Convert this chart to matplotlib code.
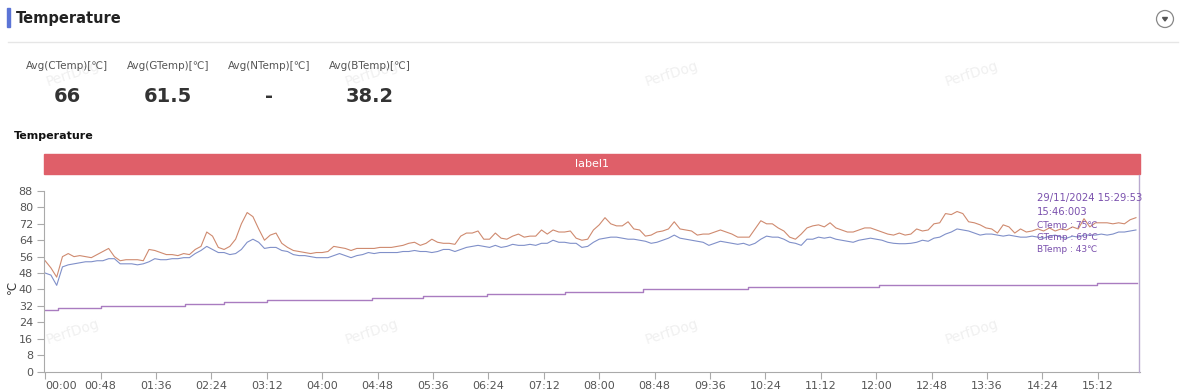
import numpy as np
import matplotlib
matplotlib.use('Agg')
import matplotlib.pyplot as plt
from matplotlib.patches import Rectangle, Circle, Polygon

# Summary values
avg_labels = ['Avg(CTemp)[℃]', 'Avg(GTemp)[℃]', 'Avg(NTemp)[℃]', 'Avg(BTemp)[℃]']
avg_values = ['66', '61.5', '-', '38.2']

# Sampled every 5 seconds, starting at 00:00
STEP = 5
ctemp = [54, 50.5, 46, 56, 57.5, 56, 56.5, 56, 55.5, 57, 58.5, 60, 56, 54, 54.5, 54.5,
         54.5, 54, 59.5, 59, 58, 57, 57, 56.5, 57.5, 57, 59.5, 61, 68, 66, 60.5, 59.5,
         61, 64.5, 72, 77.5, 75.5, 69.5, 64, 66.5, 67.5, 62.5, 60.5, 59, 58.5, 58, 57.5, 58,
         58, 58.5, 61, 60.5, 60, 59, 60, 60, 60, 60, 60.5, 60.5, 60.5, 61, 61.5, 62.5,
         63, 61.5, 62.5, 64.5, 63, 62.5, 62.5, 62, 66, 67.5, 67.5, 68.5, 64.5, 64.5, 67.5, 65,
         64.5, 66, 67, 65.5, 66, 66, 69, 67, 69, 68, 68, 68.5, 65, 64, 64.5, 69,
         71.5, 75, 72, 71, 71, 73, 69.5, 69, 66, 66.5, 68, 68.5, 69.5, 73, 69.5, 69,
         68.5, 66.5, 67, 67, 68, 69, 68, 67, 65.5, 65.5, 65.5, 69.5, 73.5, 72, 72, 70,
         68.5, 65.5, 64.5, 67, 70, 71, 71.5, 70.5, 72.5, 70, 69, 68, 68, 69, 70, 70,
         69, 68, 67, 66.5, 67.5, 66.5, 67, 69.5, 68.5, 69, 72, 72.5, 77, 76.5, 78, 77,
         73, 72.5, 71.5, 70, 69.5, 67.5, 71.5, 70.5, 67.5, 69.5, 68, 68.5, 69.5, 68.5, 70, 68.5,
         69.5, 69, 70.5, 69.5, 74.5, 70.5, 72.5, 72.5, 72.5, 72, 72.5, 72, 74, 75]
gtemp = [48, 47, 42, 51, 52, 52.5, 53, 53.5, 53.5, 54, 54, 55, 55, 52.5, 52.5, 52.5,
         52, 52.5, 53.5, 55, 54.5, 54.5, 55, 55, 55.5, 55.5, 57.5, 59, 61, 59.5, 58, 58,
         57, 57.5, 59.5, 63, 64.5, 63, 60, 60.5, 60.5, 59, 58.5, 57, 56.5, 56.5, 56, 55.5,
         55.5, 55.5, 56.5, 57.5, 56.5, 55.5, 56.5, 57, 58, 57.5, 58, 58, 58, 58, 58.5, 58.5,
         59, 58.5, 58.5, 58, 58.5, 59.5, 59.5, 58.5, 59.5, 60.5, 61, 61.5, 61, 60.5, 61.5, 60.5,
         61, 62, 61.5, 61.5, 62, 61.5, 62.5, 62.5, 64, 63, 63, 62.5, 62.5, 60.5, 61, 63,
         64.5, 65, 65.5, 65.5, 65, 64.5, 64.5, 64, 63.5, 62.5, 63, 64, 65, 66.5, 65, 64.5,
         64, 63.5, 63, 61.5, 62.5, 63.5, 63, 62.5, 62, 62.5, 61.5, 62.5, 64.5, 66, 65.5, 65.5,
         64.5, 63, 62.5, 61.5, 64.5, 64.5, 65.5, 65, 65.5, 64.5, 64, 63.5, 63, 64, 64.5, 65,
         64.5, 64, 63, 62.5, 62.3, 62.3, 62.5, 63, 64, 63.5, 65, 65.5, 67, 68, 69.5, 69,
         68.5, 67.5, 66.5, 67, 67, 66.5, 66, 66.5, 66, 65.5, 65.5, 66, 65.5, 65, 66, 66.5,
         65.5, 65, 66, 65.5, 66.5, 66.5, 66.5, 67, 66.5, 67, 68, 68, 68.5, 69]

# BTemp is a step series: seconds at which the value changes, and the new value
btemp_times = [0, 11, 48, 121, 155, 192, 283, 327, 383, 450, 518, 609, 722, 911]
btemp_levels = [30, 31, 32, 33, 34, 35, 36, 37, 38, 39, 40, 41, 42, 43]
END_TIME = 946

tooltip_lines = ['29/11/2024 15:29:53', '15:46:003', 'CTemp : 75℃', 'GTemp : 69℃', 'BTemp : 43℃']

W, H = 1180, 390
fig = plt.figure(figsize=(W / 100, H / 100), dpi=100)
fig.patch.set_facecolor('white')

# overlay layer in pixel coordinates
bg = fig.add_axes([0, 0, 1, 1], zorder=2)
bg.set_xlim(0, W)
bg.set_ylim(H, 0)
bg.axis('off')
bg.patch.set_alpha(0)

# header
bg.add_patch(Rectangle((7, 8), 2.5, 19, color='#5b74d6'))
bg.text(16, 18, 'Temperature', fontsize=10.5, fontweight='bold', color='#222222', va='center')
bg.plot([8, 1178], [42, 42], color='#e6e6e6', lw=1)
bg.add_patch(Circle((1165, 19), 8.5, fill=False, ec='#888888', lw=0.9))
bg.add_patch(Polygon([[1162.5, 17.5], [1167.5, 17.5], [1165, 21]], color='#555555'))

# watermarks
for wx in [73, 372, 672, 972]:
    for wy in [74, 332]:
        bg.text(wx, wy, 'PerfDog', fontsize=10, color='#f0f0f0', rotation=18,
                ha='center', va='center', zorder=0)

# stats
stat_x = [67, 168, 269, 370]
for sx, lab, val in zip(stat_x, avg_labels, avg_values):
    bg.text(sx, 66, lab, fontsize=7.5, color='#555555', ha='center', va='center')
    bg.text(sx, 97, val, fontsize=14, fontweight='bold', color='#333333', ha='center', va='center')

bg.text(14, 136, 'Temperature', fontsize=8, fontweight='bold', color='#111111', va='center')

# label band
bg.add_patch(Rectangle((44, 154), 1096, 20, color='#df5f69'))
bg.text(592, 164, 'label1', fontsize=8, color='white', ha='center', va='center')

# y axis unit
bg.text(12, 287, '℃', fontsize=8.5, color='#333333', rotation=90, ha='center', va='center')

# crosshair line at hovered point
bg.plot([1139, 1139], [175, 372], color='#b9a9cf', lw=1)

# main plot
ax_left, ax_right, ax_top, ax_bottom = 44, 1140, 191, 371.5
ax = fig.add_axes([ax_left / W, 1 - ax_bottom / H, (ax_right - ax_left) / W, (ax_bottom - ax_top) / H],
                  zorder=1)
ax.patch.set_alpha(0)

t = np.arange(len(ctemp)) * STEP
ax.plot(t, ctemp, color='#cf8a6f', lw=0.8)
ax.plot(t, gtemp, color='#8090c9', lw=0.8)
ax.plot(btemp_times + [END_TIME], btemp_levels + [btemp_levels[-1]], drawstyle='steps-post',
        color='#a97cc0', lw=1.0)

ax.set_xlim(-1, 948.5)
ax.set_ylim(0, 88)
ax.set_yticks(np.arange(0, 89, 8))
xt = np.arange(0, 913, 48)
ax.set_xticks(xt)
ax.set_xticklabels([f'{v // 60:02d}:{v % 60:02d}' for v in xt])
ax.tick_params(axis='both', labelsize=8, colors='#aaaaaa', labelcolor='#555555', length=5, width=0.8)
ax.tick_params(axis='x', pad=2)
ax.tick_params(axis='y', pad=3)
ax.get_xticklabels()[0].set_horizontalalignment('left')
for side in ['top', 'right']:
    ax.spines[side].set_visible(False)
for side in ['left', 'bottom']:
    ax.spines[side].set_color('#aaaaaa')
    ax.spines[side].set_linewidth(0.8)

# tooltip
tip_y = [198, 212, 226, 238, 250]
tip_size = [7.2, 7.2, 6.5, 6.5, 6.5]
for ty, ts, txt in zip(tip_y, tip_size, tooltip_lines):
    bg.text(1037, ty, txt, fontsize=ts, color='#7a50ad', va='center', zorder=5)

fig.savefig('out.png', dpi=100)
